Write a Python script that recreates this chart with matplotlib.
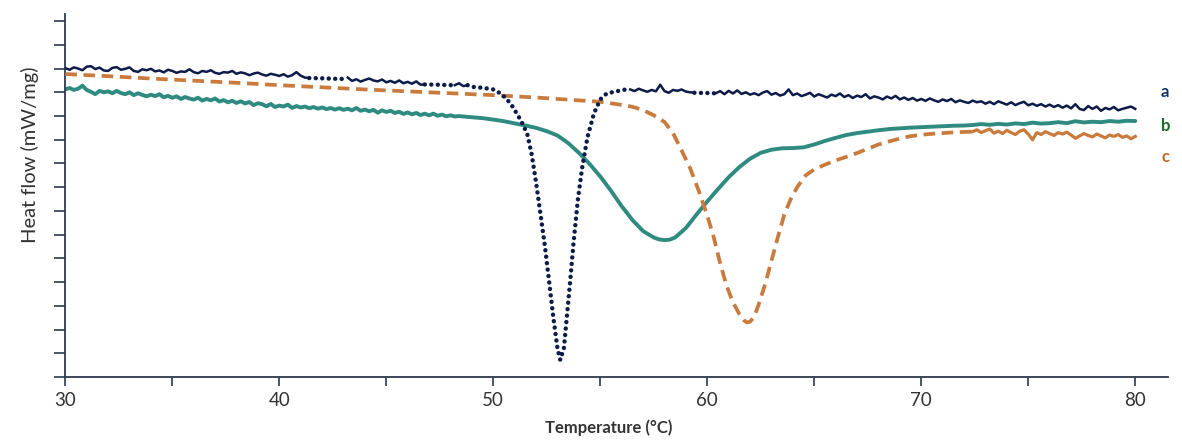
import numpy as np
import matplotlib
matplotlib.use("Agg")
import matplotlib.pyplot as plt

# ---------------- data ----------------
# curve a (navy): noisy baseline, smooth melting dip, noisy baseline
a1_start, a1_step = 30.0, 0.2
a1_y = [13.02, 12.95, 13.05, 13.00, 12.93, 13.08, 13.10, 12.98, 13.04, 12.92,
        12.90, 13.03, 13.06, 12.95, 12.99, 13.05, 12.90, 12.86, 12.97, 12.93,
        12.99, 12.88, 12.92, 12.84, 12.95, 12.90, 12.82, 12.88, 12.86, 12.97,
        12.85, 12.80, 12.90, 12.86, 12.93, 12.82, 12.78, 12.85, 12.83, 12.90,
        12.78, 12.84, 12.80, 12.72, 12.79, 12.83, 12.75, 12.70, 12.78, 12.74,
        12.69, 12.76, 12.66, 12.72, 12.85, 12.70, 12.62, 12.60, 12.60, 12.59,
        12.59, 12.58, 12.58, 12.57, 12.57, 12.56, 12.62, 12.48, 12.55, 12.45,
        12.52, 12.58, 12.50, 12.46, 12.54, 12.42, 12.48, 12.40, 12.50, 12.38,
        12.44, 12.36, 12.46, 12.32, 12.33, 12.33, 12.32, 12.32, 12.31, 12.31,
        12.30, 12.30, 12.38, 12.26, 12.30]
a_dip_x = [49.0, 49.5, 50.0, 50.3, 50.6, 50.9, 51.2, 51.4, 51.6, 51.8, 52.0,
           52.2, 52.4, 52.6, 52.8, 53.0, 53.13, 53.3, 53.45, 53.6, 53.75, 53.95,
           54.15, 54.4, 54.7, 55.0, 55.3, 55.8, 56.2]
a_dip_y = [12.23, 12.19, 12.12, 11.97, 11.75, 11.40, 10.95, 10.62, 10.20, 9.35,
           8.20, 6.90, 5.60, 4.10, 2.55, 1.20, 0.72, 1.22, 2.65, 4.10, 5.65, 7.45,
           8.80, 10.10, 11.10, 11.70, 11.95, 12.05, 12.12]
a2_start, a2_step = 56.4, 0.2
a2_y = [12.12, 12.05, 12.15, 12.08, 12.02, 12.10, 12.04, 12.32, 12.05, 11.98,
        12.10, 12.06, 12.12, 12.03, 12.00, 11.98, 11.98, 11.97, 11.97, 11.96,
        11.96, 12.05, 11.92, 12.06, 11.95, 12.08, 11.93, 12.00, 11.90, 11.96,
        11.88, 11.99, 12.05, 11.90, 11.97, 11.86, 11.92, 12.12, 11.88, 11.95,
        11.84, 11.90, 11.98, 11.82, 11.92, 11.85, 11.78, 11.90, 11.84, 11.95,
        11.80, 11.88, 11.76, 11.86, 11.80, 11.92, 11.74, 11.83, 11.78, 11.70,
        11.82, 11.74, 11.85, 11.70, 11.78, 11.68, 11.76, 11.65, 11.72, 11.64,
        11.74, 11.66, 11.60, 11.70, 11.63, 11.72, 11.58, 11.66, 11.60, 11.55,
        11.65, 11.58, 11.62, 11.52, 11.60, 11.50, 11.62, 11.55, 11.48, 11.58,
        11.46, 11.54, 11.60, 11.45, 11.52, 11.43, 11.50, 11.40, 11.48, 11.38,
        11.46, 11.35, 11.44, 11.32, 11.50, 11.30, 11.25, 11.42, 11.30, 11.40,
        11.22, 11.34, 11.28, 11.38, 11.24, 11.30, 11.35, 11.40, 11.30]
a_dotted_ranges = [(41.35, 43.25), (46.75, 48.25), (48.75, 56.45), (59.35, 60.45)]

# curve b (teal)
b1_start, b1_step = 30.0, 0.2
b1_y = [12.13, 12.18, 12.10, 12.15, 12.28, 12.10, 12.02, 11.92, 12.06, 12.00,
        12.04, 11.96, 12.06, 11.97, 11.92, 12.00, 11.88, 11.96, 11.89, 11.83,
        11.90, 11.84, 11.92, 11.79, 11.85, 11.77, 11.83, 11.72, 11.80, 11.74,
        11.69, 11.77, 11.65, 11.72, 11.66, 11.74, 11.61, 11.67, 11.58, 11.64,
        11.55, 11.62, 11.53, 11.59, 11.46, 11.54, 11.50, 11.41, 11.51, 11.38,
        11.44, 11.40, 11.48, 11.34, 11.42, 11.36, 11.40, 11.33, 11.38, 11.31,
        11.36, 11.29, 11.34, 11.27, 11.33, 11.26, 11.31, 11.24, 11.34, 11.22,
        11.27, 11.20, 11.26, 11.14, 11.24, 11.17, 11.22, 11.13, 11.18, 11.09,
        11.15, 11.07, 11.13, 11.04, 11.10, 11.03, 11.10, 11.01, 11.06, 10.99,
        11.03, 10.98, 11.00]
b2_x = [48.6, 49.0, 49.5, 50.0, 50.5, 51.0, 51.5, 52.0, 52.5, 53.0, 53.5, 54.0,
        54.5, 55.0, 55.5, 56.0, 56.5, 57.0, 57.5, 57.75, 58.0, 58.25, 58.5, 59.0,
        59.5, 60.0, 60.5, 61.0, 61.5, 62.0, 62.5, 63.0, 63.5, 64.0, 64.5, 65.0,
        65.5, 66.0, 66.5, 67.0, 67.5, 68.0, 68.5, 69.0, 69.5, 70.0, 70.5, 71.0,
        71.5, 72.0, 72.4, 72.8, 73.2, 73.6, 74.0, 74.4, 74.8, 75.2, 75.6, 76.0,
        76.4, 76.8, 77.2, 77.6, 78.0, 78.4, 78.8, 79.2, 79.6, 80.0]
b2_y = [10.98, 10.95, 10.91, 10.85, 10.78, 10.69, 10.60, 10.50, 10.36, 10.18,
        9.86, 9.45, 8.98, 8.45, 7.85, 7.20, 6.62, 6.15, 5.88, 5.80, 5.77, 5.79,
        5.88, 6.28, 6.85, 7.40, 7.92, 8.42, 8.85, 9.20, 9.45, 9.58, 9.64, 9.65,
        9.68, 9.80, 9.95, 10.08, 10.20, 10.28, 10.34, 10.40, 10.45, 10.48, 10.51,
        10.53, 10.55, 10.57, 10.59, 10.60, 10.62, 10.66, 10.63, 10.67, 10.64,
        10.69, 10.66, 10.72, 10.68, 10.70, 10.74, 10.70, 10.78, 10.73, 10.76,
        10.74, 10.79, 10.76, 10.80, 10.79]

# curve c (orange)
c1_x = [30, 32, 34, 36, 38, 40, 42, 44, 46, 48, 50, 52, 54, 55, 56, 56.5, 57.0,
        57.5, 58.0, 58.4, 58.8, 59.2, 59.6, 60.0, 60.3, 60.6, 60.9, 61.2, 61.5,
        61.7, 61.85, 62.0, 62.2, 62.4, 62.7, 63.0, 63.3, 63.6, 63.9, 64.2, 64.6,
        65.0, 65.5, 66.0, 66.5, 67.0, 67.5, 68.0, 68.5, 69.0, 69.5, 70.0, 70.5,
        71.0, 71.5, 72.0, 72.4]
c1_y = [12.77, 12.68, 12.58, 12.49, 12.40, 12.30, 12.21, 12.12, 12.04, 11.96,
        11.88, 11.78, 11.66, 11.60, 11.47, 11.39, 11.25, 11.03, 10.75, 10.28,
        9.55, 8.80, 7.85, 6.80, 5.90, 4.80, 3.85, 3.15, 2.65, 2.40, 2.30, 2.33,
        2.55, 3.05, 3.90, 4.90, 5.90, 6.85, 7.50, 8.00, 8.50, 8.75, 8.95, 9.13,
        9.28, 9.44, 9.62, 9.80, 9.93, 10.05, 10.15, 10.21, 10.25, 10.28, 10.31,
        10.33, 10.34]
c2_start, c2_step = 72.4, 0.2
c2_y = [10.34, 10.42, 10.30, 10.38, 10.45, 10.28, 10.36, 10.26, 10.40, 10.30,
        10.22, 10.36, 10.42, 10.24, 10.00, 10.30, 10.22, 10.34, 10.26, 10.18,
        10.30, 10.24, 10.32, 10.20, 10.06, 10.16, 10.26, 10.18, 10.12, 10.24,
        10.16, 10.08, 10.20, 10.14, 10.22, 10.10, 10.16, 10.04, 10.14]

series_labels = ["a", "b", "c"]
label_y = [12.0, 10.58, 9.27]
x_ticks_major = [30, 40, 50, 60, 70, 80]
x_ticks_minor = [35, 45, 55, 65, 75]
y_ticks = list(range(0, 16))

# ---------------- styling ----------------
COL_A = "#0d1b48"
COL_B = "#2f8a80"
COL_C = "#c97b3e"
LAB_COLS = ["#163567", "#1b6b2b", "#c0662b"]
AX_COL = "#2b3a4e"
TXT_COL = "#333333"

plt.rcParams['font.family'] = ['Lato', 'DejaVu Sans']

fig = plt.figure(figsize=(11.82, 4.48), dpi=100)
ax = fig.add_axes([65.3 / 1182, 71 / 448, (1168 - 65.3) / 1182, (377 - 14) / 448])

def grid(start, step, ys):
    return np.round(start + step * np.arange(len(ys)), 3)

# b
bx = np.concatenate([grid(b1_start, b1_step, b1_y), b2_x])
by = np.concatenate([b1_y, b2_y])
ax.plot(bx, by, color=COL_B, lw=2.8, solid_capstyle='round', solid_joinstyle='round', zorder=2)

# c
ax.plot(c1_x, c1_y, color=COL_C, lw=2.7, dashes=(3.1, 1.75), dash_capstyle='butt',
        dash_joinstyle='round', zorder=3)
cx2 = grid(c2_start, c2_step, c2_y)
ax.plot(cx2, c2_y, color=COL_C, lw=2.3, solid_joinstyle='round', zorder=3)

# a
ax_x = np.concatenate([grid(a1_start, a1_step, a1_y), a_dip_x, grid(a2_start, a2_step, a2_y)])
ax_y = np.concatenate([a1_y, a_dip_y, a2_y])
dot = np.zeros(len(ax_x), dtype=bool)
for lo, hi in a_dotted_ranges:
    dot |= (ax_x >= lo) & (ax_x <= hi)
i = 0
n = len(ax_x)
while i < n:
    j = i
    while j + 1 < n and dot[j + 1] == dot[i]:
        j += 1
    lo_i = max(i - 1, 0) if not dot[i] else i
    hi_i = min(j + 1, n - 1) if not dot[i] else j
    xs, ys = ax_x[lo_i:hi_i + 1], ax_y[lo_i:hi_i + 1]
    if dot[i]:
        ax.plot(xs, ys, color=COL_A, lw=3.2, dashes=(0.01, 1.45),
                dash_capstyle='round', zorder=4)
    else:
        ax.plot(xs, ys, color=COL_A, lw=1.8, solid_joinstyle='round', zorder=4)
    i = j + 1

ax.set_xlim(30, 81.53)
ax.set_ylim(0, 15.3)
ax.set_xticks(x_ticks_major)
ax.set_xticks(x_ticks_minor, minor=True)
ax.set_yticks(y_ticks)
ax.set_yticklabels([])
ax.tick_params(axis='x', which='both', direction='out', length=6.5, width=1.2,
               color=AX_COL, labelsize=13.5, labelcolor=TXT_COL, pad=4)
ax.tick_params(axis='y', direction='out', length=8, width=1.2, color=AX_COL)
for s in ['top', 'right']:
    ax.spines[s].set_visible(False)
for s in ['left', 'bottom']:
    ax.spines[s].set_color(AX_COL)
    ax.spines[s].set_linewidth(1.3)

for lab, yv, col in zip(series_labels, label_y, LAB_COLS):
    ax.text(81.4, yv, lab, color=col, fontsize=12, fontweight='bold',
            ha='center', va='center', clip_on=False)

fig.text(30 / 1182, 1 - 155 / 448, "Heat flow (mW/mg)", rotation=90,
         ha='center', va='center', fontsize=14.5, color=TXT_COL)
fig.text(609 / 1182, 1 - 428 / 448, "Temperature (°C)", ha='center', va='center',
         fontsize=12, fontweight='bold', color=TXT_COL)

fig.savefig("out.png", dpi=100, facecolor='white')
